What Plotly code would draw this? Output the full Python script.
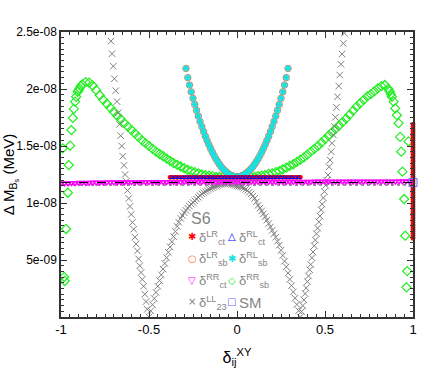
import numpy as np
import plotly.graph_objects as go

SCALE = 1e-8  # values below are Delta M_Bs in units of 1e-8 MeV


def grid(a, b, step):
    n = int(round((b - a) / step)) + 1
    return [round(a + i * step, 4) for i in range(n)]

# ---------------- data ----------------
# delta_sb^RR (green diamonds)
sbRR_dense_left_x = grid(-0.88, 0.0, 0.02)
sbRR_dense_left_y = [2.04, 2.06, 2.055, 2.03, 1.99, 1.945, 1.905, 1.87, 1.835, 1.80,
                     1.765, 1.735, 1.70, 1.67, 1.64, 1.61, 1.58, 1.55, 1.525, 1.50,
                     1.475, 1.45, 1.43, 1.41, 1.39, 1.37, 1.35, 1.335, 1.32, 1.305,
                     1.29, 1.28, 1.27, 1.26, 1.25, 1.245, 1.24, 1.235, 1.23, 1.228,
                     1.225, 1.223, 1.222, 1.221, 1.22]
sbRR_dense_right_x = grid(0.02, 0.86, 0.02)
sbRR_dense_right_y = [1.221, 1.222, 1.224, 1.227, 1.23, 1.235, 1.24, 1.245, 1.255, 1.26,
                      1.27, 1.28, 1.295, 1.31, 1.325, 1.34, 1.36, 1.38, 1.40, 1.425,
                      1.45, 1.475, 1.50, 1.53, 1.56, 1.59, 1.62, 1.65, 1.68, 1.71,
                      1.74, 1.775, 1.81, 1.845, 1.875, 1.905, 1.935, 1.955, 1.98, 2.005,
                      2.025, 2.035, 2.00]
sbRR_edge_left_x = [-0.887, -0.895, -0.900, -0.905, -0.914, -0.920, -0.927, -0.933, -0.941,
                    -0.948, -0.956, -0.961, -0.971, -0.979, -0.982, -0.990]
sbRR_edge_left_y = [2.025, 2.005, 1.99, 1.976, 1.932, 1.889, 1.825, 1.746, 1.640,
                    1.503, 1.333, 1.090, 0.772, 0.316, 0.351, 1.48]
sbRR_edge_right_x = [0.867, 0.874, 0.880, 0.890, 0.899, 0.908, 0.918, 0.927, 0.933,
                     0.940, 0.950, 0.956, 0.963, 0.967, 0.975]
sbRR_edge_right_y = [1.98, 1.955, 1.932, 1.889, 1.83, 1.77, 1.70, 1.58, 1.45,
                     1.275, 1.035, 0.713, 0.26, 0.403, 1.54]

# delta_sb^LR (orange circles) and delta_sb^RL (cyan stars) -- same curve
sb_x = grid(-0.29, 0.29, 0.01)
sbLR_y = [2.18, 2.10, 2.035, 1.975, 1.918, 1.864, 1.812, 1.762, 1.715, 1.67,
          1.627, 1.586, 1.548, 1.512, 1.478, 1.446, 1.416, 1.388, 1.363, 1.34,
          1.319, 1.30, 1.284, 1.27, 1.258, 1.248, 1.24, 1.234, 1.231, 1.23,
          1.231, 1.234, 1.24, 1.248, 1.258, 1.27, 1.284, 1.30, 1.319, 1.34,
          1.363, 1.388, 1.416, 1.446, 1.478, 1.512, 1.548, 1.586, 1.627, 1.67,
          1.715, 1.762, 1.812, 1.864, 1.918, 1.975, 2.035, 2.10, 2.18]
sbRL_y = [2.18, 2.10, 2.035, 1.975, 1.918, 1.864, 1.812, 1.762, 1.715, 1.67,
          1.627, 1.586, 1.548, 1.512, 1.478, 1.446, 1.416, 1.388, 1.363, 1.34,
          1.319, 1.30, 1.284, 1.27, 1.258, 1.248, 1.24, 1.234, 1.231, 1.23,
          1.231, 1.234, 1.24, 1.248, 1.258, 1.27, 1.284, 1.30, 1.319, 1.34,
          1.363, 1.388, 1.416, 1.446, 1.478, 1.512, 1.548, 1.586, 1.627, 1.67,
          1.715, 1.762, 1.812, 1.864, 1.918, 1.975, 2.035, 2.10, 2.18]

# delta_23^LL (gray crosses)
LL_left_x = [-0.716, -0.710, -0.703, -0.697, -0.689, -0.682, -0.675, -0.668, -0.661, -0.655,
             -0.649, -0.642, -0.636, -0.629, -0.622, -0.615, -0.608, -0.601, -0.594, -0.587,
             -0.580, -0.573, -0.566, -0.559, -0.552, -0.545, -0.538, -0.531, -0.524, -0.517,
             -0.510]
LL_left_y = [2.42, 2.31, 2.20, 2.09, 1.985, 1.89, 1.79, 1.69, 1.59, 1.50,
             1.41, 1.33, 1.25, 1.19, 1.11, 1.04, 0.97, 0.90, 0.83, 0.77,
             0.70, 0.64, 0.58, 0.51, 0.45, 0.39, 0.33, 0.27, 0.20, 0.135,
             0.067]
LL_mid_x = grid(-0.50, 0.36, 0.01)
LL_mid_y = [0.00, 0.054, 0.108, 0.162, 0.216, 0.27, 0.32, 0.37, 0.42, 0.47,
            0.52, 0.568, 0.615, 0.66, 0.705, 0.75, 0.795, 0.83, 0.865, 0.89,
            0.915, 0.935, 0.955, 0.973, 0.99, 1.005, 1.02, 1.035, 1.05, 1.065,
            1.08, 1.09, 1.10, 1.11, 1.12, 1.128, 1.135, 1.142, 1.148, 1.154,
            1.16, 1.164, 1.168, 1.17, 1.17, 1.169, 1.168, 1.165, 1.16, 1.155,
            1.15, 1.147, 1.143, 1.138, 1.13, 1.12, 1.11, 1.095, 1.08, 1.06,
            1.04, 1.01, 0.98, 0.955, 0.93, 0.905, 0.88, 0.85, 0.82, 0.79,
            0.76, 0.73, 0.70, 0.665, 0.63, 0.585, 0.54, 0.49, 0.44, 0.385,
            0.33, 0.275, 0.22, 0.165, 0.11, 0.055, 0.0]
LL_right_x = [0.367, 0.374, 0.380, 0.387, 0.393, 0.400, 0.406, 0.413, 0.419, 0.426,
              0.432, 0.439, 0.445, 0.452, 0.458, 0.465, 0.471, 0.478, 0.484, 0.491,
              0.497, 0.504, 0.510, 0.517, 0.523, 0.529, 0.535, 0.540, 0.548, 0.554,
              0.559, 0.565, 0.571, 0.578, 0.584, 0.591, 0.597, 0.604, 0.610]
LL_right_y = [0.048, 0.10, 0.15, 0.205, 0.255, 0.31, 0.36, 0.415, 0.46, 0.52,
              0.57, 0.625, 0.675, 0.73, 0.78, 0.835, 0.885, 0.94, 0.99, 1.045,
              1.10, 1.155, 1.20, 1.246, 1.318, 1.377, 1.45, 1.524, 1.597, 1.67,
              1.752, 1.839, 1.932, 2.026, 2.123, 2.217, 2.307, 2.40, 2.49]

# delta_ct^RR (magenta triangles down)
ctRR_x = grid(-1.0, 1.0, 0.02)
ctRR_y = [1.172, 1.173, 1.174, 1.175, 1.176, 1.177, 1.177, 1.178, 1.178, 1.179,
          1.179, 1.180, 1.180, 1.181, 1.181, 1.181, 1.182, 1.182, 1.182, 1.183,
          1.183, 1.183, 1.183, 1.184, 1.184, 1.184, 1.184, 1.184, 1.185, 1.185,
          1.185, 1.185, 1.185, 1.185, 1.185, 1.186, 1.186, 1.186, 1.186, 1.186,
          1.186, 1.186, 1.186, 1.186, 1.186, 1.186, 1.186, 1.186, 1.186, 1.186,
          1.186, 1.186, 1.186, 1.186, 1.187, 1.187, 1.187, 1.187, 1.187, 1.187,
          1.187, 1.187, 1.187, 1.187, 1.187, 1.187, 1.187, 1.187, 1.187, 1.187,
          1.187, 1.187, 1.188, 1.188, 1.188, 1.188, 1.188, 1.188, 1.188, 1.188,
          1.188, 1.188, 1.188, 1.188, 1.188, 1.189, 1.189, 1.189, 1.189, 1.189,
          1.189, 1.189, 1.189, 1.189, 1.189, 1.189, 1.190, 1.190, 1.190, 1.190,
          1.190]

# delta_ct^RL (blue triangles up)
ctRL_x = grid(-0.37, 0.35, 0.02)
ctRL_y = [1.224, 1.224, 1.224, 1.224, 1.225, 1.225, 1.225, 1.225, 1.225, 1.225,
          1.225, 1.225, 1.225, 1.225, 1.225, 1.225, 1.225, 1.225, 1.225, 1.225,
          1.225, 1.225, 1.225, 1.225, 1.225, 1.225, 1.225, 1.225, 1.225, 1.225,
          1.225, 1.225, 1.225, 1.224, 1.224, 1.224, 1.224]

# delta_ct^LR (red asterisks)
ctLR_flat_x = grid(-0.38, 0.36, 0.02)
ctLR_flat_y = [1.225, 1.225, 1.225, 1.225, 1.225, 1.225, 1.225, 1.225, 1.225, 1.225,
               1.225, 1.225, 1.225, 1.225, 1.225, 1.225, 1.225, 1.225, 1.225, 1.225,
               1.225, 1.225, 1.225, 1.225, 1.225, 1.225, 1.225, 1.225, 1.225, 1.225,
               1.225, 1.225, 1.225, 1.225, 1.225, 1.225, 1.225, 1.225]
ctLR_edge_y = [0.69, 0.71, 0.73, 0.75, 0.77, 0.79, 0.81, 0.83, 0.85, 0.87,
               0.89, 0.91, 0.93, 0.95, 0.97, 0.99, 1.01, 1.03, 1.05, 1.07,
               1.09, 1.11, 1.13, 1.15, 1.17, 1.19, 1.21, 1.23, 1.25, 1.27,
               1.29, 1.31, 1.33, 1.35, 1.37, 1.39, 1.41, 1.43, 1.45, 1.47,
               1.49, 1.51, 1.53, 1.55, 1.57, 1.59, 1.61, 1.63, 1.65, 1.67,
               1.69]
ctLR_edge_x = [1.0] * len(ctLR_edge_y)

# Standard Model
SM_x = [1.0]
SM_y = [1.18]
SM_line = 1.18
aux_line = 1.158

# ticks
x_ticks = [-1, -0.5, 0, 0.5, 1]
x_ticktext = ["-1", "-0.5", "0", "0.5", "1"]
y_ticks = [0.5, 1.0, 1.5, 2.0, 2.5]
y_ticktext = ["5e-09", "1e-08", "1.5e-08", "2e-08", "2.5e-08"]

# legend
legend_title = "S6"
legend_symbols = ["\u2731", "\u25B3", "\u25CB", "\u2731", "\u25BD", "\u25C7", "\u00D7", "\u25A1"]
legend_colors = ["#ff0000", "#0000ff", "#ff6a3d", "#19e0e0", "#ff00ff", "#22ee22", "#808080", "#6a6aff"]
legend_labels = ["\u03b4<sup>LR</sup><sub>ct</sub>", "\u03b4<sup>RL</sup><sub>ct</sub>",
                 "\u03b4<sup>LR</sup><sub>sb</sub>", "\u03b4<sup>RL</sup><sub>sb</sub>",
                 "\u03b4<sup>RR</sup><sub>ct</sub>", "\u03b4<sup>RR</sup><sub>sb</sub>",
                 "\u03b4<sup>LL</sup><sub>23</sub>", "SM"]

# ---------------- figure ----------------
W, H = 436, 368
ML, MR, MT, MB = 61, 23, 32, 51
PW, PH = W - ML - MR, H - MT - MB


def px2x(px):
    return (px - ML) / PW


def py2y(py):
    return (H - MB - py) / PH


def s(v):
    return (np.array(v, dtype=float) * SCALE).tolist()

fig = go.Figure()

fig.add_trace(go.Scatter(
    x=sbRR_edge_left_x + sbRR_dense_left_x + sbRR_dense_right_x + sbRR_edge_right_x,
    y=s(sbRR_edge_left_y + sbRR_dense_left_y + sbRR_dense_right_y + sbRR_edge_right_y),
    mode="markers", name="sbRR",
    marker=dict(symbol="diamond-open", size=7, color="#22ee22", line=dict(width=1.2, color="#22ee22"))))

fig.add_trace(go.Scatter(
    x=sb_x, y=s(sbLR_y), mode="markers", name="sbLR",
    marker=dict(symbol="circle-open", size=6.5, color="#ff6a3d", line=dict(width=1, color="#ff6a3d"))))

fig.add_trace(go.Scatter(
    x=sb_x, y=s(sbRL_y), mode="markers", name="sbRL",
    marker=dict(symbol="asterisk-open", size=5.5, color="#19e0e0", line=dict(width=1.5, color="#19e0e0"))))

fig.add_trace(go.Scatter(
    x=LL_left_x + LL_mid_x + LL_right_x, y=s(LL_left_y + LL_mid_y + LL_right_y),
    mode="markers", name="LL",
    marker=dict(symbol="x-thin-open", size=6.5, color="#808080", line=dict(width=1, color="#808080"))))

fig.add_trace(go.Scatter(
    x=ctLR_flat_x + ctLR_edge_x, y=s(ctLR_flat_y + ctLR_edge_y),
    mode="markers", name="ctLR", cliponaxis=False,
    marker=dict(symbol="asterisk-open", size=4, color="#ff0000", line=dict(width=1.5, color="#ff0000"))))

fig.add_trace(go.Scatter(
    x=ctRR_x, y=s(ctRR_y), mode="markers", name="ctRR",
    marker=dict(symbol="triangle-down-open", size=5, color="#ff00ff", line=dict(width=1.5, color="#ff00ff"))))

fig.add_trace(go.Scatter(
    x=ctRL_x, y=s(ctRL_y), mode="markers", name="ctRL",
    marker=dict(symbol="triangle-up-open", size=4, color="#0000ff", line=dict(width=1, color="#0000ff"))))

fig.add_trace(go.Scatter(
    x=SM_x, y=s(SM_y), mode="markers", name="SM", cliponaxis=False,
    marker=dict(symbol="square-open", size=8, color="#6a6aff", line=dict(width=1, color="#6a6aff"))))

# SM reference lines
fig.add_shape(type="line", xref="paper", yref="y", x0=0, x1=1,
              y0=SM_line * SCALE, y1=SM_line * SCALE,
              line=dict(color="black", width=1, dash="dash"), layer="above")
fig.add_shape(type="line", xref="paper", yref="y", x0=0, x1=1,
              y0=aux_line * SCALE, y1=aux_line * SCALE,
              line=dict(color="#9a9a9a", width=2, dash="dot"), layer="below")

# legend built from text
LEG_GRAY = "#858585"
col_sym = [192.0, 231.5]
col_text = [197.5, 237.5]
rows = [236.7, 258.3, 280.0, 301.7]
ann = []
ann.append(dict(text=legend_title, x=px2x(190), y=py2y(218), xref="paper", yref="paper",
                xanchor="left", yanchor="middle", showarrow=False, borderpad=0,
                font=dict(size=16, color=LEG_GRAY, family="Liberation Sans, Arial")))
for i in range(len(legend_symbols)):
    r, c = divmod(i, 2)
    yc = rows[r]
    ann.append(dict(text=legend_symbols[i], x=px2x(col_sym[c]), y=py2y(yc), xref="paper", yref="paper",
                    xanchor="center", yanchor="middle", showarrow=False, borderpad=0,
                    font=dict(size=10, color=legend_colors[i], family="DejaVu Sans")))
    ann.append(dict(text=legend_labels[i], x=px2x(col_text[c]), y=py2y(yc + 1), xref="paper",
                    yref="paper", xanchor="left", yanchor="middle", showarrow=False, borderpad=0,
                    font=dict(size=13 if legend_labels[i] != "SM" else 15,
                              color=LEG_GRAY, family="Liberation Sans, Arial")))

axis_common = dict(showline=True, linecolor="#333333", linewidth=1.5, mirror="ticks",
                   ticks="inside", ticklen=6, tickwidth=1, tickcolor="#333333",
                   showgrid=False, zeroline=False, automargin=False)

fig.update_layout(
    width=W, height=H, margin=dict(l=ML, r=MR, t=MT, b=MB),
    plot_bgcolor="white", paper_bgcolor="white", showlegend=False,
    font=dict(family="Liberation Sans, Arial, sans-serif", color="black"),
    annotations=ann,
    xaxis=dict(range=[-1, 1], tickmode="array", tickvals=x_ticks, ticktext=x_ticktext,
               tickfont=dict(size=13),
               minor=dict(tickmode="linear", tick0=-1, dtick=0.05, ticks="inside", ticklen=3,
                          tickcolor="#333333"),
               title=dict(text="\u03b4<sub>ij</sub><sup>XY</sup>", font=dict(size=16)),
               **axis_common),
    yaxis=dict(range=[0, 2.5e-8], tickmode="array", tickvals=s(y_ticks), ticktext=y_ticktext,
               tickfont=dict(size=12),
               minor=dict(tickmode="linear", tick0=0, dtick=0.05e-8, ticks="inside", ticklen=3,
                          tickcolor="#333333"),
               title=dict(text="\u0394 M<sub>B<sub>s</sub></sub> (MeV)", font=dict(size=15)),
               **axis_common),
)

fig.write_html("out.html", config={"displayModeBar": False},
               post_script="document.body.style.margin='0';")
